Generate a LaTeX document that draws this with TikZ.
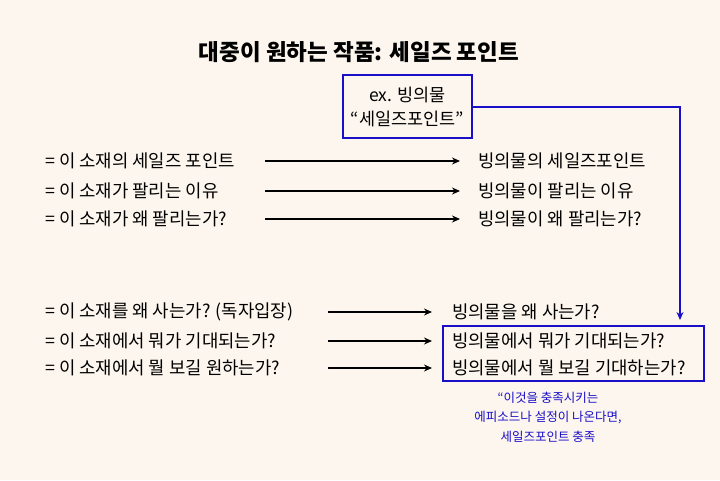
\documentclass[tikz,border=0pt]{standalone}
\usepackage{fontspec}
\setmainfont{Noto Sans CJK KR}
\usetikzlibrary{arrows.meta}
\definecolor{bg}{HTML}{FDF6EE}
\definecolor{myblue}{HTML}{1A0FC8}
\begin{document}
\begin{tikzpicture}[x=1pt,y=-1pt,
  txt/.style={anchor=west,inner sep=0,font=\fontsize{17.8}{20}\selectfont},
  arr/.style={-{Stealth[length=8pt,width=7pt]},line width=1.3pt},
  bbox/.style={draw=myblue,line width=1.3pt}]
\fill[bg] (0,0) rectangle (720,480);
\useasboundingbox (0,0) rectangle (720,480);
\node[font=\bfseries\fontsize{22.5}{26}\selectfont] (title) at (359,52) {대중이 원하는 작품: 세일즈 포인트};
\node[bbox,minimum width=129pt,minimum height=63pt,align=center,font=\fontsize{17.5}{24}\selectfont] (ex) at (407.5,106.5) {ex. 빙의물\\“세일즈포인트”};
\node[txt] (l1) at (45,161) {= 이 소재의 세일즈 포인트};
\node[txt] (l2) at (45,191) {= 이 소재가 팔리는 이유};
\node[txt] (l3) at (45,219) {= 이 소재가 왜 팔리는가?};
\node[txt] (r1) at (478,161) {빙의물의 세일즈포인트};
\node[txt] (r2) at (478,191) {빙의물이 팔리는 이유};
\node[txt] (r3) at (478,219) {빙의물이 왜 팔리는가?};
\node[txt] (l4) at (45,312) {= 이 소재를 왜 사는가? (독자입장)};
\node[txt] (l5) at (45,341) {= 이 소재에서 뭐가 기대되는가?};
\node[txt] (l6) at (45,368) {= 이 소재에서 뭘 보길 원하는가?};
\node[txt] (r4) at (452,312) {빙의물을 왜 사는가?};
\node[txt] (r5) at (452,341) {빙의물에서 뭐가 기대되는가?};
\node[txt] (r6) at (452,368) {빙의물에서 뭘 보길 기대하는가?};
\node[bbox,minimum width=261pt,minimum height=55pt] (box) at (573.5,353.5) {};
\node[align=center,text=myblue,font=\fontsize{12.5}{19.5}\selectfont] (note) at (548,417) {“이것을 충족시키는\\에피소드나 설정이 나온다면,\\세일즈포인트 충족};
\coordinate (a1s) at (265,161); \coordinate (a1e) at (460,161);
\coordinate (a2s) at (265,191); \coordinate (a2e) at (460,191);
\coordinate (a3s) at (265,219); \coordinate (a3e) at (460,219);
\draw[arr] (a1s) -- (a1e);
\draw[arr] (a2s) -- (a2e);
\draw[arr] (a3s) -- (a3e);
\coordinate (a4s) at (328,312); \coordinate (a4e) at (432,312);
\coordinate (a5s) at (328,341); \coordinate (a5e) at (432,341);
\coordinate (a6s) at (328,368); \coordinate (a6e) at (432,368);
\draw[arr] (a4s) -- (a4e);
\draw[arr] (a5s) -- (a5e);
\draw[arr] (a6s) -- (a6e);
\coordinate (corner) at (680,107);
\coordinate (tip) at (680,320);
\draw[arr,myblue] (ex.east |- corner) -- (corner) -- (tip);
\end{tikzpicture}
\end{document}
